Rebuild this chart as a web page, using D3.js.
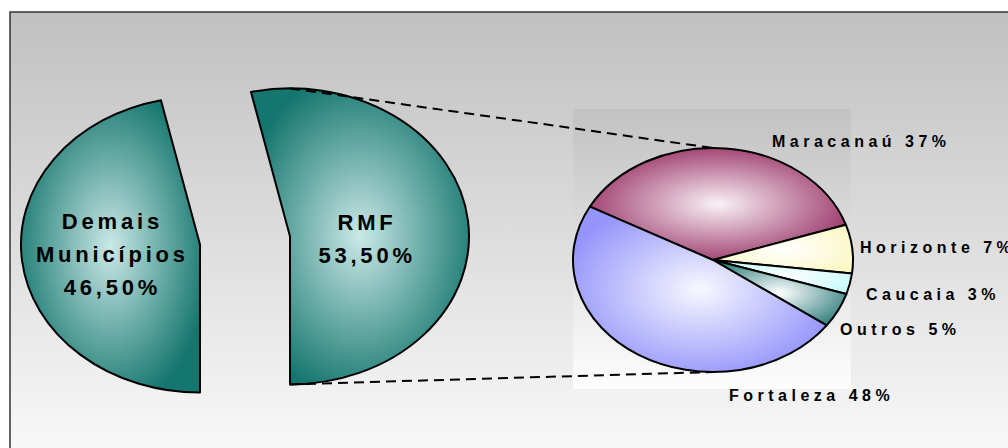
<!DOCTYPE html>
<html>
<head>
<meta charset="utf-8">
<script src="https://cdn.jsdelivr.net/npm/d3@7"></script>
<style>
  html, body { margin: 0; padding: 0; background: #fff; }
  svg { display: block; }
  text { font-family: "Liberation Sans", Arial, sans-serif; font-weight: bold; fill: #000; }
</style>
</head>
<body>
<svg id="chart" width="1008" height="448"></svg>
<script>
// Primary pie: RMF versus the rest of the state
const primaryCategories = ["RMF", "Demais Municípios"];
const primaryValues = [53.5, 46.5];
const primaryValueLabels = ["53,50%", "46,50%"];
const primaryLabelLines = [["RMF"], ["Demais", "Municípios"]];

// Secondary pie: breakdown of the RMF share
const secondaryCategories = ["Maracanaú", "Horizonte", "Caucaia", "Outros", "Fortaleza"];
const secondaryValues = [37, 7, 3, 5, 48];

const svg = d3.select("#chart");
const defs = svg.append("defs");

// ---- background frame ----
const bg = defs.append("linearGradient").attr("id", "bgGrad")
  .attr("gradientUnits", "userSpaceOnUse").attr("x1", 0).attr("y1", 12).attr("x2", 0).attr("y2", 448);
bg.append("stop").attr("offset", 0).attr("stop-color", "#c0c0c0");
bg.append("stop").attr("offset", 1).attr("stop-color", "#f8f8f8");

svg.append("rect").attr("x", 10).attr("y", 12).attr("width", 1010).attr("height", 450)
  .attr("fill", "url(#bgGrad)").attr("stroke", "#333").attr("stroke-width", 1.5);

// plot area behind the secondary pie
const pa = defs.append("linearGradient").attr("id", "plotGrad")
  .attr("x1", 0).attr("y1", 0).attr("x2", 0).attr("y2", 1);
pa.append("stop").attr("offset", 0).attr("stop-color", "#c2c2c2");
pa.append("stop").attr("offset", 1).attr("stop-color", "#fdfdfd");
svg.append("rect").attr("x", 573).attr("y", 109).attr("width", 278).attr("height", 280)
  .attr("fill", "url(#plotGrad)");

function radial(id, inner, outer, r) {
  const g = defs.append("radialGradient").attr("id", id)
    .attr("cx", 0.5).attr("cy", 0.5).attr("r", r || 0.55);
  g.append("stop").attr("offset", 0).attr("stop-color", inner);
  g.append("stop").attr("offset", 1).attr("stop-color", outer);
  return `url(#${id})`;
}

// ---- primary pie ----
const p1 = { cx: 245, cy: 240.5, rx: 179, ry: 148, explode: 0.253 };
const total1 = d3.sum(primaryValues);
const start1 = Math.PI - 2 * Math.PI * primaryValues[0] / total1;
const pie1 = d3.pie().sort(null).value(d => d.value)
  .startAngle(start1).endAngle(start1 + 2 * Math.PI);
const arc1 = d3.arc().innerRadius(0).outerRadius(p1.ry);
const tealFill = radial("tealGrad", "#cae8e6", "#15766f", 0.56);

const primaryData = primaryCategories.map((c, i) => ({
  name: c, value: primaryValues[i], valueLabel: primaryValueLabels[i], lines: primaryLabelLines[i]
}));
const slices1 = pie1(primaryData).map(d => {
  const mid = (d.startAngle + d.endAngle) / 2;
  d.cx = p1.cx + p1.explode * p1.rx * Math.sin(mid);
  d.cy = p1.cy - p1.explode * p1.ry * Math.cos(mid);
  return d;
});

const g1 = svg.append("g");
g1.selectAll("path").data(slices1).join("path")
  .attr("transform", d => `translate(${d.cx},${d.cy}) scale(${p1.rx / p1.ry},1)`)
  .attr("d", arc1)
  .attr("fill", tealFill)
  .attr("stroke", "#000").attr("stroke-width", 2)
  .attr("vector-effect", "non-scaling-stroke")
  .attr("stroke-linejoin", "round");

// label placement inside each primary slice, as a fraction of the radii
const primaryLabelOffset = { "RMF": [0.42, 0.012], "Demais Municípios": [-0.5, 0.065] };
const bigFont = 22, bigGap = 33;
slices1.forEach(d => {
  const off = primaryLabelOffset[d.data.name];
  const x = d.cx + off[0] * p1.rx;
  const yc = d.cy + off[1] * p1.ry;
  const lines = d.data.lines.concat([d.data.valueLabel]);
  lines.forEach((t, i) => {
    svg.append("text")
      .attr("x", x + 1.9).attr("y", yc + (i - (lines.length - 1) / 2) * bigGap + bigFont * 0.36)
      .attr("text-anchor", "middle")
      .attr("font-size", bigFont).attr("letter-spacing", 3.8)
      .text(t);
  });
});

// ---- secondary pie ----
const p2 = { cx: 713, cy: 260, rx: 140, ry: 112 };
const start2 = -61.5 * Math.PI / 180;
const pie2 = d3.pie().sort(null).value(d => d.value)
  .startAngle(start2).endAngle(start2 + 2 * Math.PI);
const arc2 = d3.arc().innerRadius(0).outerRadius(p2.ry);

const secondaryFill = {
  "Maracanaú": radial("gMar", "#f9f2f6", "#993366", 0.56),
  "Horizonte": radial("gHor", "#ffffff", "#fbf7c4", 0.6),
  "Caucaia": radial("gCau", "#ffffff", "#c6fbfb", 0.6),
  "Outros": radial("gOut", "#ffffff", "#2f7d7b", 0.6),
  "Fortaleza": radial("gFor", "#f8f8ff", "#9494fb", 0.56)
};

const secondaryData = secondaryCategories.map((c, i) => ({ name: c, value: secondaryValues[i] }));
const slices2 = pie2(secondaryData);

// dashed connectors from the exploded RMF slice to the secondary pie
const rmf = slices1[0];
const connectors = [
  [[rmf.cx, rmf.cy - p1.ry], [p2.cx, p2.cy - p2.ry]],
  [[rmf.cx, rmf.cy + p1.ry], [p2.cx, p2.cy + p2.ry]]
];
svg.append("g").selectAll("line").data(connectors).join("line")
  .attr("x1", d => d[0][0]).attr("y1", d => d[0][1])
  .attr("x2", d => d[1][0]).attr("y2", d => d[1][1])
  .attr("stroke", "#000").attr("stroke-width", 2)
  .attr("stroke-dasharray", "10,6");

const g2 = svg.append("g").attr("transform", `translate(${p2.cx},${p2.cy}) scale(${p2.rx / p2.ry},1)`);
g2.selectAll("path").data(slices2).join("path")
  .attr("d", arc2)
  .attr("fill", d => secondaryFill[d.data.name])
  .attr("stroke", "#000").attr("stroke-width", 2)
  .attr("vector-effect", "non-scaling-stroke")
  .attr("stroke-linejoin", "round");

// outside labels (left edge, vertical centre)
const secondaryLabelPos = {
  "Maracanaú": [772, 141],
  "Horizonte": [860, 247],
  "Caucaia": [866, 294],
  "Outros": [840, 329],
  "Fortaleza": [729, 395]
};
const smallFont = 16;
svg.append("g").selectAll("text").data(slices2).join("text")
  .attr("x", d => secondaryLabelPos[d.data.name][0])
  .attr("y", d => secondaryLabelPos[d.data.name][1] + smallFont * 0.36)
  .attr("font-size", smallFont).attr("letter-spacing", 4.5)
  .text(d => `${d.data.name} ${d.data.value}%`);
</script>
</body>
</html>
